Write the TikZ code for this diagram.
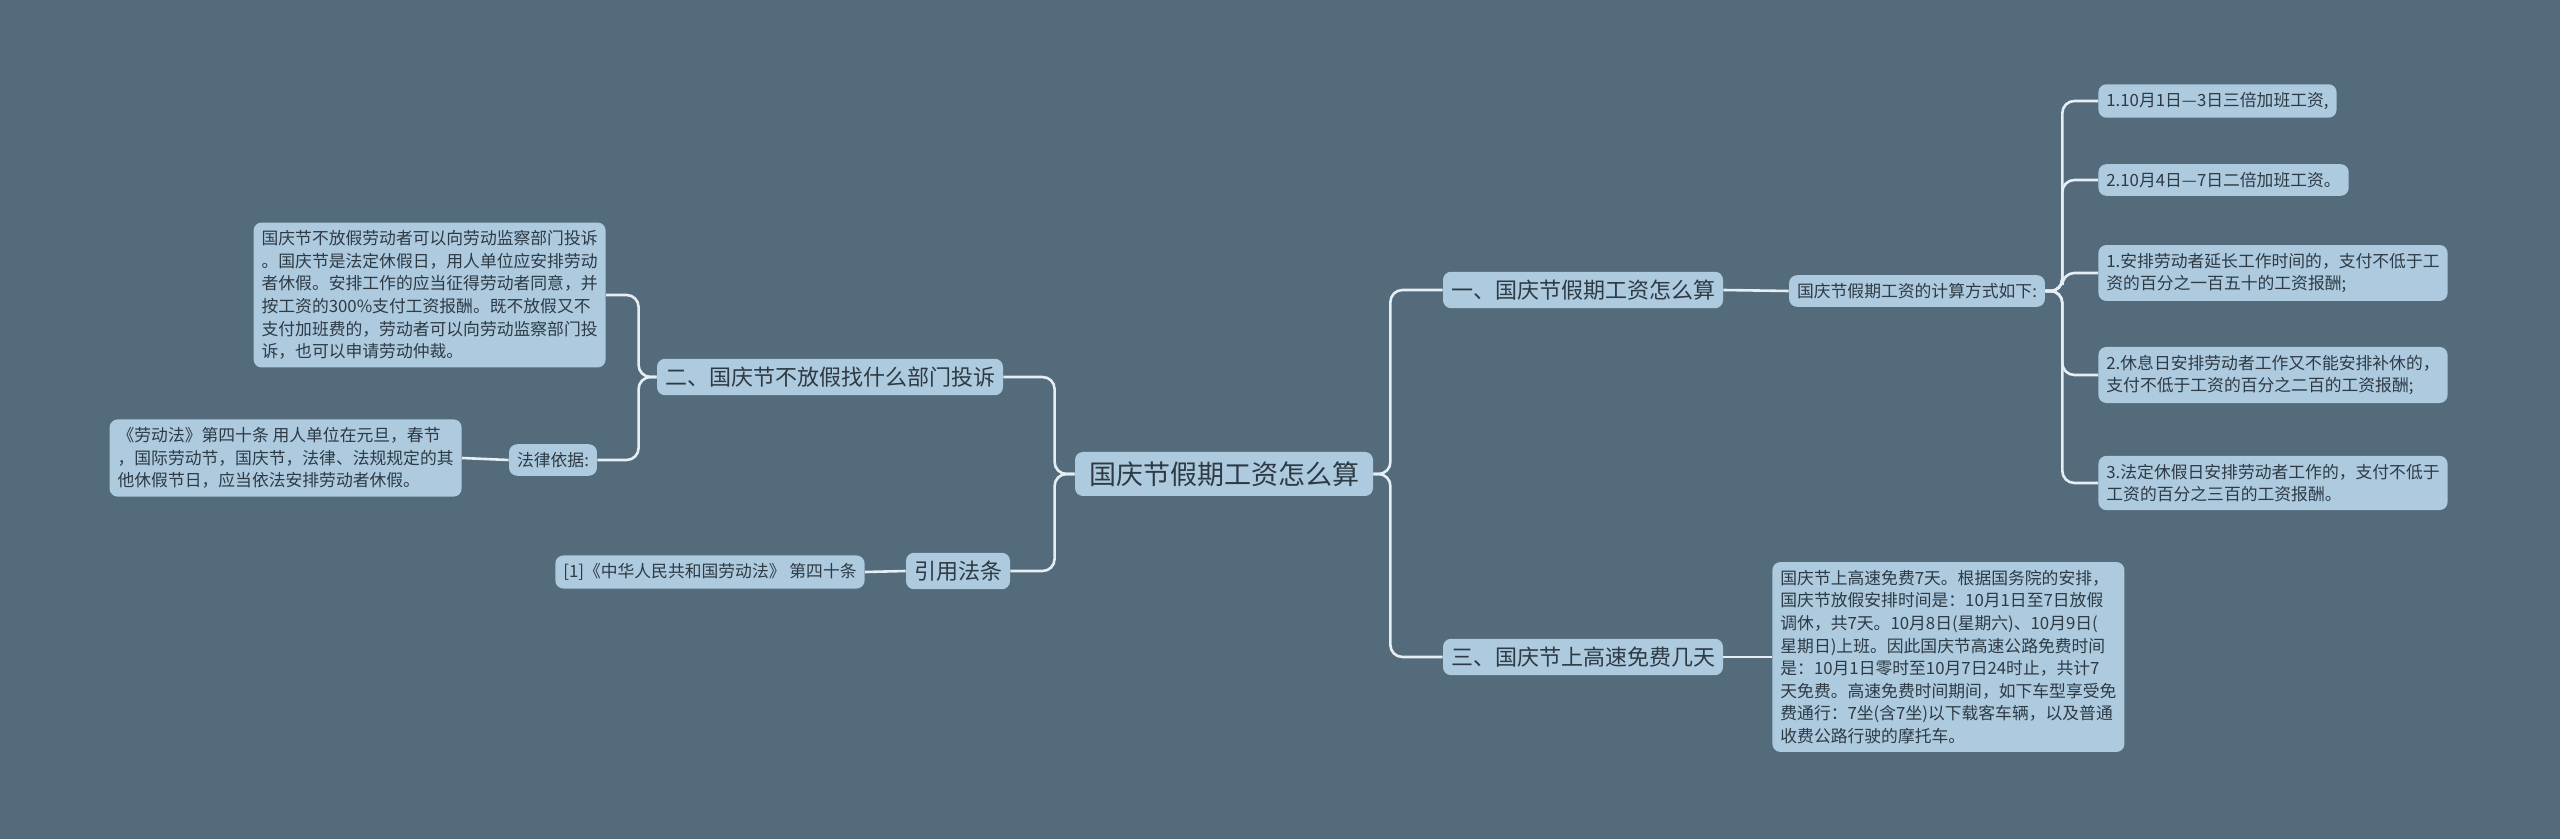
\documentclass[tikz,border=0pt]{standalone}
\usepackage{fontspec}
\setmainfont{Noto Sans CJK SC}
\definecolor{bgcol}{HTML}{546B7B}
\definecolor{boxcol}{HTML}{ADCADF}
\definecolor{linkcol}{HTML}{E4EEF4}
\definecolor{txtcol}{HTML}{2E3A44}
\tikzset{
  box/.style={draw=none,fill=boxcol,rounded corners=4pt,text=txtcol,align=left,inner sep=4pt},
  root/.style={box,font=\fontsize{13.5}{16}\selectfont,inner xsep=7pt,minimum height=22pt},
  branch/.style={box,font=\fontsize{11}{13}\selectfont,minimum height=16pt},
  leaf/.style={box,font=\fontsize{8.4}{11.3}\selectfont},
  link/.style={draw=linkcol,line width=1.3pt,rounded corners=6pt}
}
\begin{document}
\begin{tikzpicture}[x=0.5pt,y=-0.5pt]
  \useasboundingbox[fill=bgcol] (0,0) rectangle (2560,839);
  % 中心
  \node[root] (root) at (1224,474) {国庆节假期工资怎么算};
  % 右侧
  \node[branch] (b1) at (1583,290) {一、国庆节假期工资怎么算};
  \node[leaf] (calc) at (1917,291) {国庆节假期工资的计算方式如下:};
  \node[leaf,anchor=west] (l1) at (2098,101) {1.10月1日—3日三倍加班工资,};
  \node[leaf,anchor=west] (l2) at (2098,180) {2.10月4日—7日二倍加班工资。};
  \node[leaf,anchor=west] (l3) at (2098,273) {1.安排劳动者延长工作时间的，支付不低于工\\资的百分之一百五十的工资报酬;};
  \node[leaf,anchor=west] (l4) at (2098,375) {2.休息日安排劳动者工作又不能安排补休的，\\支付不低于工资的百分之二百的工资报酬;};
  \node[leaf,anchor=west] (l5) at (2098,483) {3.法定休假日安排劳动者工作的，支付不低于\\工资的百分之三百的工资报酬。};
  \node[branch] (b3) at (1583,657) {三、国庆节上高速免费几天};
  \node[leaf,anchor=west] (fee) at (1772,657) {国庆节上高速免费7天。根据国务院的安排，\\国庆节放假安排时间是：10月1日至7日放假\\调休，共7天。10月8日(星期六)、10月9日(\\星期日)上班。因此国庆节高速公路免费时间\\是：10月1日零时至10月7日24时止，共计7\\天免费。高速免费时间期间，如下车型享受免\\费通行：7坐(含7坐)以下载客车辆，以及普通\\收费公路行驶的摩托车。};
  % 左侧
  \node[branch] (b2) at (830,377) {二、国庆节不放假找什么部门投诉};
  \node[leaf,anchor=east] (compl) at (606,295) {国庆节不放假劳动者可以向劳动监察部门投诉\\。国庆节是法定休假日，用人单位应安排劳动\\者休假。安排工作的应当征得劳动者同意，并\\按工资的300\%支付工资报酬。既不放假又不\\支付加班费的，劳动者可以向劳动监察部门投\\诉，也可以申请劳动仲裁。};
  \node[leaf] (basis) at (553,460) {法律依据:};
  \node[leaf,anchor=east] (law) at (462,458) {《劳动法》第四十条 用人单位在元旦，春节\\，国际劳动节，国庆节，法律、法规规定的其\\他休假节日，应当依法安排劳动者休假。};
  \node[branch] (cite) at (958,571) {引用法条};
  \node[leaf,anchor=east] (ref) at (865,572) {[1]《中华人民共和国劳动法》 第四十条};
  % 连线
  \foreach \n in {b1,b3}
    \draw[link] (root.east) -- ++(17,0) |- (\n.west);
  \foreach \n in {b2,cite}
    \draw[link] (root.west) -- ++(-20,0) |- (\n.east);
  \draw[link] (b1.east) -- (calc.west);
  \foreach \n in {l1,l2,l3,l4,l5}
    \draw[link] (calc.east) -- ++(17,0) |- (\n.west);
  \draw[link] (b3.east) -- (fee.west);
  \foreach \n in {compl,basis}
    \draw[link] (b2.west) -- ++(-18,0) |- (\n.east);
  \draw[link] (basis.west) -- (law.east);
  \draw[link] (cite.west) -- (ref.east);
\end{tikzpicture}
\end{document}
